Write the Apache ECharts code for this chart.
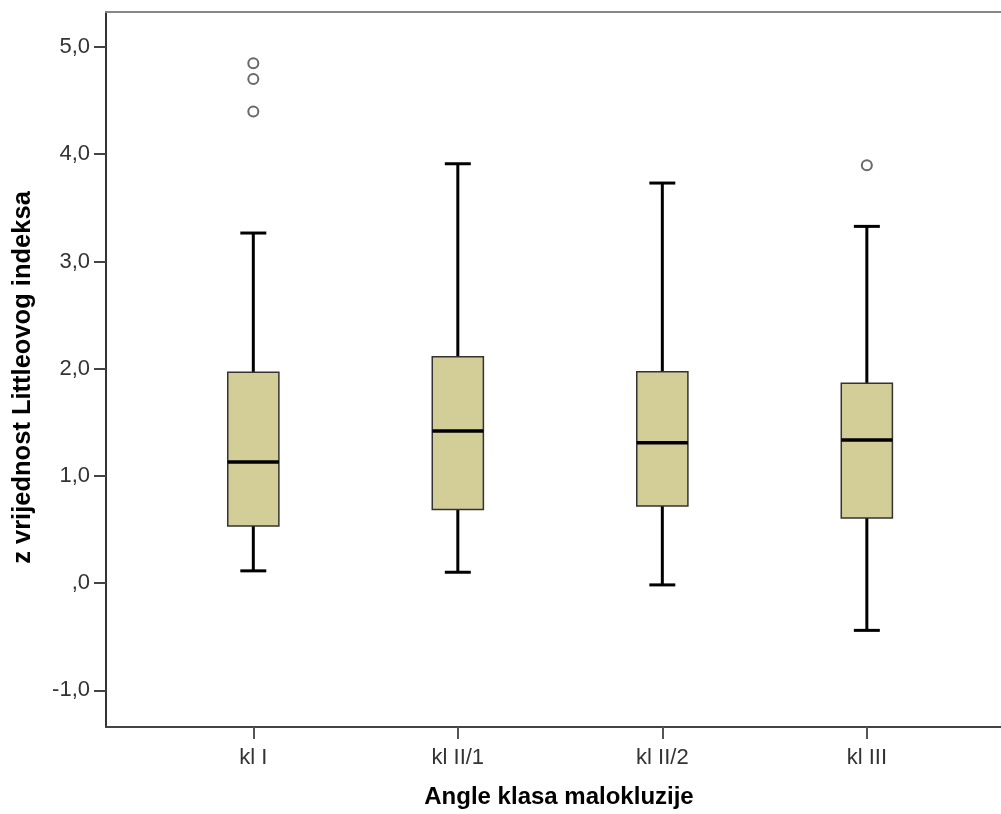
<!DOCTYPE html>
<html>
<head>
<meta charset="utf-8">
<script src="https://cdn.jsdelivr.net/npm/echarts@6/dist/echarts.min.js"></script>
<style>
html,body{margin:0;padding:0;background:#fff;}
#chart{width:1001px;height:814px;}
</style>
</head>
<body>
<div id="chart"></div>
<script>
// ---- data ----
const categories = ['kl I', 'kl II/1', 'kl II/2', 'kl III'];
const whiskerLow  = [0.115, 0.102, -0.016, -0.44];
const q1          = [0.534, 0.686, 0.720, 0.608];
const median      = [1.130, 1.418, 1.310, 1.334];
const q3          = [1.967, 2.111, 1.971, 1.865];
const whiskerHigh = [3.265, 3.911, 3.731, 3.327];
const outlierCat  = [0, 0, 0, 3];
const outlierVal  = [4.848, 4.702, 4.398, 3.898];
const yTicks = [-1, 0, 1, 2, 3, 4, 5];
const xTicks = [0, 1, 2, 3];

const xMin = -0.7203, xMax = 3.656;
const yMin = -1.341, yMax = 5.326;

const boxData = categories.map((c, i) => [i, whiskerLow[i], q1[i], median[i], q3[i], whiskerHigh[i]]);
const outlierData = outlierCat.map((c, i) => [c, outlierVal[i]]);

const FONT = "'Liberation Sans', Arial, sans-serif";

function fmtY(v) {
  if (v === 0) return ',0';
  return v.toFixed(1).replace('.', ',');
}

function renderBox(params, api) {
  const x = api.value(0);
  const lo = api.coord([x, api.value(1)]);
  const b1 = api.coord([x, api.value(2)]);
  const md = api.coord([x, api.value(3)]);
  const b3 = api.coord([x, api.value(4)]);
  const hi = api.coord([x, api.value(5)]);
  const unit = api.size([1, 0])[0];
  const boxW = unit * 0.25;
  const capW = unit * 0.127;
  const cx = lo[0];
  const lineStyle = {stroke: '#000', lineWidth: 3};
  return {
    type: 'group',
    children: [
      {type: 'line', shape: {x1: cx, y1: b3[1], x2: cx, y2: hi[1]}, style: lineStyle},
      {type: 'line', shape: {x1: cx, y1: b1[1], x2: cx, y2: lo[1]}, style: lineStyle},
      {type: 'line', shape: {x1: cx - capW / 2, y1: hi[1], x2: cx + capW / 2, y2: hi[1]}, style: lineStyle},
      {type: 'line', shape: {x1: cx - capW / 2, y1: lo[1], x2: cx + capW / 2, y2: lo[1]}, style: lineStyle},
      {type: 'rect', shape: {x: cx - boxW / 2, y: b3[1], width: boxW, height: b1[1] - b3[1]},
        style: {fill: '#d3ce97', stroke: '#333', lineWidth: 1.5}},
      {type: 'line', shape: {x1: cx - boxW / 2, y1: md[1], x2: cx + boxW / 2, y2: md[1]},
        style: {stroke: '#000', lineWidth: 3.5}}
    ]
  };
}

const chart = echarts.init(document.getElementById('chart'), null, {renderer: 'canvas'});
chart.setOption({
  animation: false,
  backgroundColor: '#fff',
  grid: {left: 106, right: 0, top: 12, bottom: 86, containLabel: false},
  xAxis: [
    {
      type: 'value', min: xMin, max: xMax, position: 'bottom',
      name: 'Angle klasa malokluzije', nameLocation: 'middle', nameGap: 58,
      nameTextStyle: {fontFamily: FONT, fontSize: 24, fontWeight: 'bold', color: '#000', padding: [0, 0, 0, 11]},
      axisLine: {show: true, onZero: false, lineStyle: {color: '#444', width: 2}},
      axisTick: {show: true, length: 12, customValues: xTicks, lineStyle: {color: '#555', width: 2}},
      axisLabel: {show: true, customValues: xTicks, margin: 20, fontFamily: FONT, fontSize: 22, color: '#333',
        formatter: v => categories[Math.round(v)] || ''},
      splitLine: {show: false}
    },
    {
      type: 'value', min: xMin, max: xMax, position: 'top',
      axisLine: {show: true, onZero: false, lineStyle: {color: '#888', width: 2}},
      axisTick: {show: false}, axisLabel: {show: false}, splitLine: {show: false}
    }
  ],
  yAxis: {
    type: 'value', min: yMin, max: yMax,
    name: 'z vrijednost Littleovog indeksa', nameLocation: 'middle', nameGap: 70,
    nameTextStyle: {fontFamily: FONT, fontSize: 25.5, fontWeight: 'bold', color: '#000', padding: [0, 16, 0, 0]},
    axisLine: {show: true, onZero: false, lineStyle: {color: '#333', width: 2}},
    axisTick: {show: true, length: 12, customValues: yTicks, lineStyle: {color: '#444', width: 2}},
    axisLabel: {show: true, customValues: yTicks, margin: 16, fontFamily: FONT, fontSize: 22, color: '#333',
      formatter: v => fmtY(v)},
    splitLine: {show: false}
  },
  series: [
    {
      type: 'custom', xAxisIndex: 0, yAxisIndex: 0,
      renderItem: renderBox,
      encode: {x: 0, y: [1, 2, 3, 4, 5]},
      data: boxData
    },
    {
      type: 'scatter', xAxisIndex: 0, yAxisIndex: 0,
      symbol: 'emptyCircle', symbolSize: 10,
      itemStyle: {color: '#444', borderColor: '#444', borderWidth: 2},
      data: outlierData
    }
  ]
});
</script>
</body>
</html>
